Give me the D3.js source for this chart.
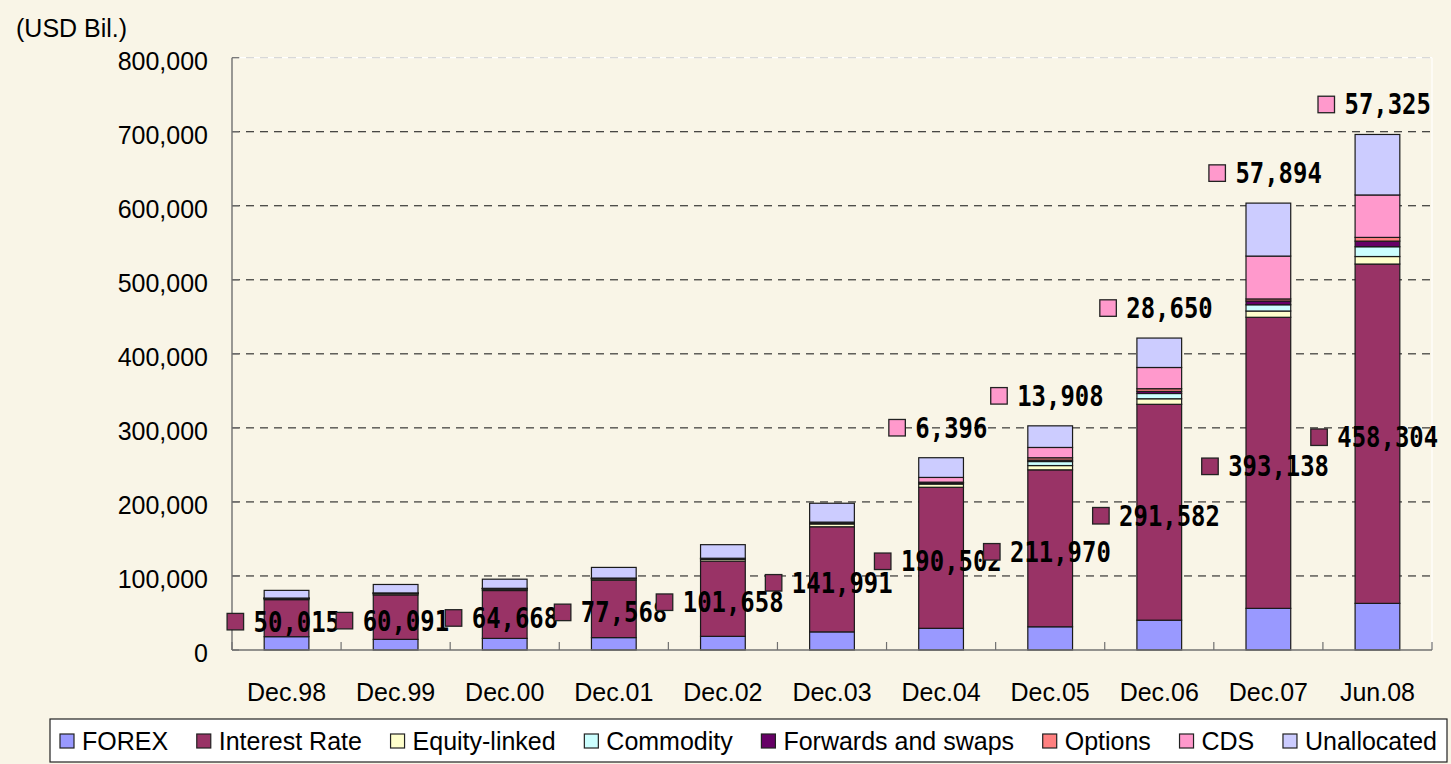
<!DOCTYPE html>
<html><head><meta charset="utf-8">
<script src="https://cdn.jsdelivr.net/npm/d3@7"></script>
<style>html,body{margin:0;padding:0;background:#F9F5E7;} svg{display:block}</style>
</head><body><svg id="c" width="1451" height="764"></svg>
<script>
// ---- data (USD Bil.) ----
const categories = ["Dec.98","Dec.99","Dec.00","Dec.01","Dec.02","Dec.03","Dec.04","Dec.05","Dec.06","Dec.07","Jun.08"];
const forex        = [18011,14344,15666,16748,18448,24475,29289,31364,40271,56238,62983];
const interestRate = [50015,60091,64668,77568,101658,141991,190502,211970,291582,393138,458304];
const equityLinked = [1488,1809,1891,1881,2309,3787,4385,5793,7488,8469,10177];
const commodity    = [415,548,662,598,923,1406,1443,5434,7115,8455,13229];
const forwardsSwaps= [137,163,248,217,402,420,558,1909,2813,5085,7561];
const options      = [85,142,196,150,206,642,516,3191,3663,2776,5019];
const cds          = [0,0,0,0,0,0,6396,13908,28650,57894,57325];
const unallocated  = [10389,11408,12313,14384,18328,25508,26613,29199,39740,71543,81708];
const yTicks = [0,100000,200000,300000,400000,500000,600000,700000,800000];
const seriesNames = ["FOREX","Interest Rate","Equity-linked","Commodity","Forwards and swaps","Options","CDS","Unallocated"];
const seriesColors = ["#9999FF","#993366","#FFFFCC","#CCFFFF","#660066","#FF8080","#FF99CC","#CCCCFF"];
const unitLabel = "(USD Bil.)";

const seriesArrays = [forex, interestRate, equityLinked, commodity, forwardsSwaps, options, cds, unallocated];
const rows = categories.map((c,i)=>{ const r={cat:c}; seriesNames.forEach((s,k)=>r[s]=seriesArrays[k][i]); return r; });

const svg = d3.select("#c");
const W=1451,H=764;
const pLeft=232,pRight=1432,pTop=57.7,pBottom=650;
svg.append("rect").attr("width",W).attr("height",H).attr("fill","#F9F5E7");

const x = d3.scaleBand().domain(categories).range([pLeft,pRight]).paddingInner(0.59).paddingOuter(0.295);
const y = d3.scaleLinear().domain([0,800000]).range([pBottom,pTop]);
const step = x.step();

const txtFont = "'Liberation Sans', Arial, sans-serif";

// gridlines
const g = svg.append("g");
g.append("line").attr("x1",pLeft).attr("x2",pRight).attr("y1",y(800000)).attr("y2",y(800000)).attr("stroke","#ffffff").attr("stroke-width",1.2);
g.append("line").attr("x1",pRight).attr("x2",pRight).attr("y1",pTop).attr("y2",pBottom).attr("stroke","#ffffff").attr("stroke-width",1.2);
yTicks.filter(t=>t>0).forEach(t=>{
  g.append("line").attr("x1",pLeft).attr("x2",pRight).attr("y1",y(t)).attr("y2",y(t))
   .attr("stroke", t===800000 ? "#cfcfcf" : "#111").attr("stroke-width",1)
   .attr("stroke-dasharray","8,6");
});

// bars
const stack = d3.stack().keys(seriesNames)(rows);
stack.forEach((layer,k)=>{
  svg.append("g").selectAll("rect").data(layer).join("rect")
    .attr("x",d=>x(d.data.cat)).attr("width",x.bandwidth())
    .attr("y",d=>y(d[1])).attr("height",d=>Math.max(0,y(d[0])-y(d[1])))
    .attr("fill",seriesColors[k]).attr("stroke",d=>(d[1]-d[0])>0?"#1a1a1a":"none").attr("stroke-width",1.2);
});

// axes
const ax = svg.append("g");
ax.append("line").attr("x1",pLeft).attr("x2",pLeft).attr("y1",pTop).attr("y2",pBottom).attr("stroke","#707070").attr("stroke-width",1.4);
ax.append("line").attr("x1",pLeft).attr("x2",pRight).attr("y1",pBottom).attr("y2",pBottom).attr("stroke","#707070").attr("stroke-width",1.4);
yTicks.forEach(t=>{
  ax.append("line").attr("x1",pLeft).attr("x2",pLeft+7).attr("y1",y(t)).attr("y2",y(t)).attr("stroke","#707070").attr("stroke-width",1.2);
  ax.append("text").attr("x",208).attr("y",y(t)+12).attr("text-anchor","end")
    .attr("font-family",txtFont).attr("font-size",25).attr("fill","#000").text(d3.format(",")(t));
});
categories.forEach((c,i)=>{
  const cx = x(c)+x.bandwidth()/2;
  ax.append("text").attr("x",cx).attr("y",701).attr("text-anchor","middle")
    .attr("font-family",txtFont).attr("font-size",25).attr("fill","#000").text(c);
});
for(let i=0;i<=categories.length;i++){
  const bx = pLeft + i*step;
  ax.append("line").attr("x1",bx).attr("x2",bx).attr("y1",pBottom).attr("y2",pBottom-8).attr("stroke","#707070").attr("stroke-width",1.2);
}

// unit label
svg.append("text").attr("x",16).attr("y",37).attr("font-family",txtFont).attr("font-size",25).attr("fill","#000").text(unitLabel);

// data labels
const lblFont = "'DejaVu Sans Mono', monospace";
function dataLabel(cx, cy, value, color){
  const s = d3.format(",")(value);
  const tw = s.length*14.4, ms=16.5, gap=10;
  const total = ms+gap+tw;
  const x0 = cx - total/2;
  const gl = svg.append("g");
  gl.append("rect").attr("x",x0).attr("y",cy-ms/2).attr("width",ms).attr("height",ms)
    .attr("fill",color).attr("stroke","#222").attr("stroke-width",1.3);
  gl.append("text").attr("x",x0+ms+gap).attr("y",cy+10).attr("font-family",lblFont)
    .attr("font-weight","bold").attr("font-size",28).attr("fill","#000")
    .attr("textLength",tw).attr("lengthAdjust","spacingAndGlyphs").text(s);
}
const irLayer = stack[1], topLayer = stack[stack.length-1];
categories.forEach((c,i)=>{
  const cx = x(c)+x.bandwidth()/2-3;
  const d = irLayer[i];
  dataLabel(cx, y((d[0]+d[1])/2)+3.5, interestRate[i], seriesColors[1]);
  if(cds[i]>0){
    dataLabel(cx, y(topLayer[i][1])-30, cds[i], seriesColors[6]);
  }
});

// legend
const lg = svg.append("g");
lg.append("rect").attr("x",50).attr("y",719).attr("width",1397).attr("height",43).attr("fill","#ffffff").attr("stroke","#222").attr("stroke-width",1.2);
const items = seriesNames.map((n,k)=>{
  const t = lg.append("text").attr("y",750).attr("font-family",txtFont).attr("font-size",25).attr("fill","#000").text(n);
  return {t, w:t.node().getComputedTextLength(), k};
});
const sq=14, sgap=8, startX=60, endX=1437;
const sumW = d3.sum(items,d=>sq+sgap+d.w);
const itemGap = (endX-startX-sumW)/(items.length-1);
let cx0 = startX;
items.forEach(it=>{
  lg.append("rect").attr("x",cx0).attr("y",741-sq/2).attr("width",sq).attr("height",sq)
    .attr("fill",seriesColors[it.k]).attr("stroke","#222").attr("stroke-width",1.2);
  it.t.attr("x",cx0+sq+sgap);
  cx0 += sq+sgap+it.w+itemGap;
});
</script></body></html>
